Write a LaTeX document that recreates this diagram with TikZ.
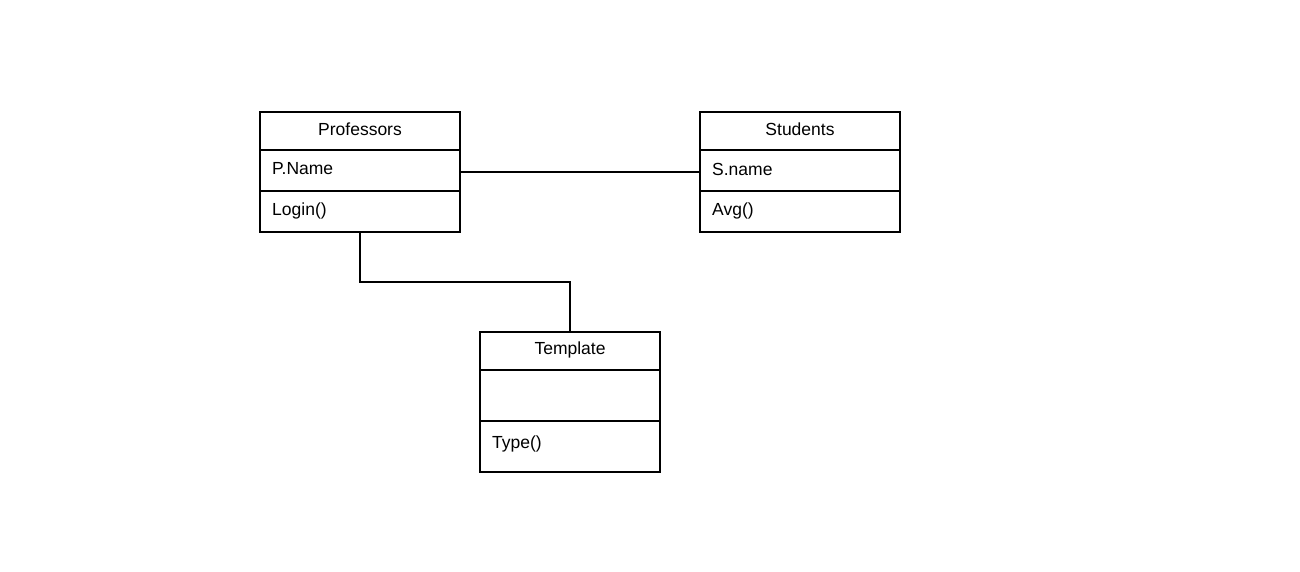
\documentclass[tikz,border=0pt]{standalone}
\usepackage{fontspec}
\setmainfont{Liberation Sans}
\begin{document}
\begin{tikzpicture}[x=1pt,y=-1pt,
  box/.style={draw=black,line width=2pt,fill=white,inner sep=0pt},
  wire/.style={draw=black,line width=2pt},
  ttl/.style={font=\fontsize{17.5}{20}\selectfont,anchor=center,inner sep=0pt},
  mem/.style={font=\fontsize{17.5}{20}\selectfont,anchor=west,inner sep=0pt}]
\useasboundingbox[fill=white] (0,0) rectangle (1300,572);
% Professors
\draw[box] (260,112) rectangle (460,232);
\draw[wire] (260,150) -- (460,150);
\draw[wire] (260,191) -- (460,191);
\node[ttl] (prot) at (360,129) {Professors};
\node[mem] (proa) at (272,169) {P.Name};
\node[mem] (prom) at (272,210.5) {Login()};
\coordinate (proR) at (460,172);
\coordinate (proB) at (360,232);
% Students
\draw[box] (700,112) rectangle (900,232);
\draw[wire] (700,150) -- (900,150);
\draw[wire] (700,191) -- (900,191);
\node[ttl] (stut) at (800,129) {Students};
\node[mem] (stua) at (712,169) {S.name};
\node[mem] (stum) at (712,210.5) {Avg()};
\coordinate (stuL) at (700,172);
% Template
\draw[box] (480,332) rectangle (660,472);
\draw[wire] (480,370) -- (660,370);
\draw[wire] (480,421) -- (660,421);
\node[ttl] (tmpt) at (570,349.5) {Template};
\node[mem] (tmpm) at (492,444) {Type()};
\coordinate (tmpT) at (570,332);
% connectors
\draw[wire] (proR) -- (stuL);
\draw[wire] (proB) -- (360,282) -| (tmpT);
\end{tikzpicture}
\end{document}
